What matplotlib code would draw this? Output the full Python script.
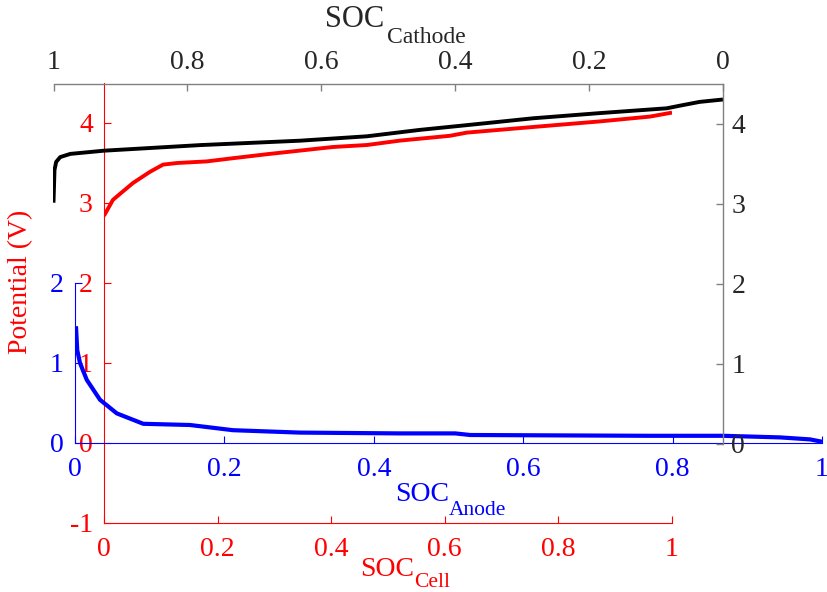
import matplotlib
matplotlib.use("Agg")
import matplotlib.pyplot as plt

plt.rcParams['font.family'] = ['Liberation Serif', 'DejaVu Serif']
plt.rcParams['lines.solid_joinstyle'] = 'round'

# cathode half-cell potential vs cathode state of charge
cathode_soc = [1.0, 0.9985, 0.996, 0.990, 0.975, 0.925, 0.781, 0.632, 0.532,
               0.453, 0.382, 0.284, 0.184, 0.084, 0.060, 0.035, 0.0]
cathode_v = [3.01, 3.42, 3.52, 3.58, 3.62, 3.66, 3.73, 3.785, 3.84,
             3.92, 3.98, 4.065, 4.13, 4.19, 4.23, 4.27, 4.30]

# full cell voltage vs cell state of charge
cell_soc = [0.0, 0.0158, 0.051, 0.081, 0.104, 0.129, 0.181, 0.227, 0.287,
            0.403, 0.463, 0.521, 0.609, 0.639, 0.755, 0.873, 0.961, 1.0]
cell_v = [2.84, 3.04, 3.25, 3.39, 3.48, 3.50, 3.52, 3.56, 3.61,
          3.70, 3.725, 3.78, 3.84, 3.88, 3.95, 4.02, 4.08, 4.13]

# anode half-cell potential vs anode state of charge
anode_soc = [0.0013, 0.003, 0.0067, 0.0157, 0.0335, 0.056, 0.0914, 0.154,
             0.2115, 0.301, 0.435, 0.509, 0.529, 0.649, 0.770, 0.868, 0.944,
             0.984, 1.0]
anode_v = [1.46, 1.16, 1.0, 0.79, 0.54, 0.37, 0.24, 0.225, 0.16, 0.13, 0.12,
           0.12, 0.10, 0.095, 0.09, 0.09, 0.07, 0.045, 0.016]

soc_ticks = [0, 0.2, 0.4, 0.6, 0.8, 1]
soc_labels = ['0', '0.2', '0.4', '0.6', '0.8', '1']

W, H = 828, 592
fig = plt.figure(figsize=(W / 100, H / 100), dpi=100)


def box(x0, y0, x1, y1):
    # pixel box (top-left origin) -> figure fraction rect
    return [x0 / W, 1 - y1 / H, (x1 - x0) / W, (y1 - y0) / H]


def sub_label(x, y, sx, sy, main, sub, color, size, subsize):
    # "main" with a subscript, placed by pixel baselines
    fig.text(x / W, 1 - y / H, main, color=color, fontsize=size,
             ha='left', va='baseline')
    fig.text(sx / W, 1 - sy / H, sub, color=color, fontsize=subsize,
             ha='left', va='baseline')


FS = 20
grey = '#262626'
LW = 2.8

# cell axes (red): left and bottom spines
ax_cell = fig.add_axes(box(104, 83, 672, 523))
ax_cell.patch.set_alpha(0)
ax_cell.plot(cell_soc, cell_v, color='#ff0000', lw=LW, solid_capstyle='butt')
ax_cell.set_xlim(0, 1)
ax_cell.set_ylim(-1, 4.5)
ax_cell.set_xticks(soc_ticks, soc_labels)
ax_cell.set_yticks([-1, 0, 1, 2, 3, 4], ['-1', '0', '1', '2', '3', '4'])
for s in ['top', 'right']:
    ax_cell.spines[s].set_visible(False)
for s in ['left', 'bottom']:
    ax_cell.spines[s].set_color('#ff0000')
    ax_cell.spines[s].set_linewidth(0.8)
ax_cell.tick_params(direction='in', length=5, width=0.8, colors='#ff0000',
                    labelsize=FS, pad=8)
ax_cell.tick_params(axis='x', pad=10)

# anode axes (blue): left and bottom spines
ax_an = fig.add_axes(box(75, 283, 822, 443))
ax_an.patch.set_alpha(0)
ax_an.plot(anode_soc, anode_v, color='#0000ff', lw=3.0, solid_capstyle='butt')
ax_an.set_xlim(0, 1)
ax_an.set_ylim(0, 2)
ax_an.set_xticks(soc_ticks, soc_labels)
ax_an.set_yticks([0, 1, 2], ['0', '1', '2'])
for s in ['top', 'right']:
    ax_an.spines[s].set_visible(False)
for s in ['left', 'bottom']:
    ax_an.spines[s].set_color('#0000ff')
    ax_an.spines[s].set_linewidth(0.8)
ax_an.tick_params(direction='in', length=5, width=0.8, colors='#0000ff',
                  labelsize=FS, pad=8)
ax_an.tick_params(axis='x', pad=10)

# cathode axes (black): top and right spines, reversed SOC
ax_ca = fig.add_axes(box(53.5, 83.5, 723, 443.5))
ax_ca.patch.set_alpha(0)
ax_ca.plot(cathode_soc, cathode_v, color='black', lw=LW, solid_capstyle='butt')
ax_ca.set_xlim(1, 0)
ax_ca.set_ylim(0, 4.5)
ax_ca.xaxis.tick_top()
ax_ca.yaxis.tick_right()
ax_ca.set_xticks(soc_ticks, soc_labels)
ax_ca.set_yticks([0, 1, 2, 3, 4], ['0', '1', '2', '3', '4'])
for s in ['bottom', 'left']:
    ax_ca.spines[s].set_visible(False)
for s in ['top', 'right']:
    ax_ca.spines[s].set_color('#808080')
    ax_ca.spines[s].set_linewidth(1.0)
ax_ca.tick_params(direction='in', length=5, width=1.0, color='#808080',
                  labelcolor=grey, labelsize=FS, pad=6)
ax_ca.tick_params(axis='x', pad=6)

# axis titles
sub_label(325, 27, 387, 43, 'SOC', 'Cathode', grey, 22, 17)
sub_label(395, 501, 449, 515, 'SOC', 'Anode', '#0000ff', 20, 15.5)
sub_label(360, 576, 414, 587, 'SOC', 'Cell', '#ff0000', 20, 15.5)
fig.text(21 / W, 1 - 282 / H, 'Potential (V)', color='#ff0000',
         fontsize=FS, ha='center', va='center', rotation=90)

fig.savefig('out.png', dpi=100)
